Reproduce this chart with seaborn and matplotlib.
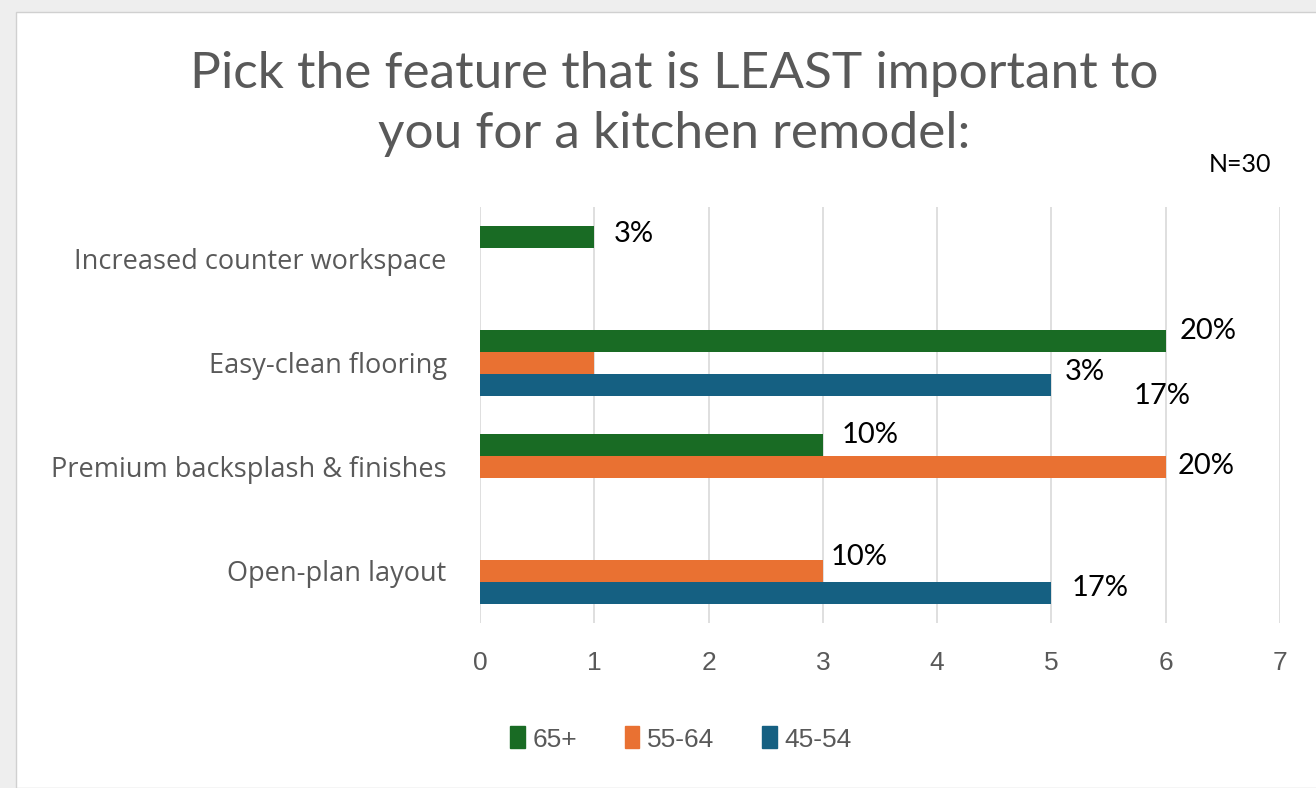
import pandas as pd
import seaborn as sns
import matplotlib.pyplot as plt
from matplotlib.patches import Rectangle

features = ["Increased counter workspace", "Easy-clean flooring",
            "Premium backsplash & finishes", "Open-plan layout"]
age_groups = ["65+", "55-64", "45-54"]
counts_65 = [1, 6, 3, 0]
counts_55 = [0, 1, 6, 3]
counts_45 = [0, 5, 0, 5]
n_total = 30

# data label placement (as in the original, some labels sit off their bars)
label_text = ["3%", "20%", "3%", "17%", "10%", "20%", "10%", "17%"]
label_x = [1.17, 6.12, 5.12, 5.72, 3.16, 6.10, 3.07, 5.18]
label_y = [-0.24, 0.69, 1.09, 1.32, 1.69, 1.99, 2.87, 3.16]

colors = ["#196B24", "#E97132", "#156082"]
narrow = ['Liberation Sans Narrow', 'Liberation Sans', 'DejaVu Sans']

rows = []
for grp, vals in zip(age_groups, [counts_65, counts_55, counts_45]):
    for feat, v in zip(features, vals):
        rows.append({"feature": feat, "group": grp, "count": v})
df = pd.DataFrame(rows)

sns.set_style("white")
plt.rcParams['font.family'] = ['Lato', 'DejaVu Sans']

fig = plt.figure(figsize=(13.16, 7.88), dpi=100)
fig.patch.set_facecolor("#eeeeee")
# white chart area like the Excel chart box
fig.patches.append(Rectangle((16 / 1316, 0), 1, 1 - 12 / 788, transform=fig.transFigure,
                             facecolor="white", edgecolor="#d0d0d0", lw=1, zorder=-1))

ax = fig.add_axes([480 / 1316, 1 - 623 / 788, 800 / 1316, 416 / 788])
ax.set_facecolor("none")
sns.barplot(data=df, y="feature", x="count", hue="group", hue_order=age_groups,
            order=features, palette=colors, orient="h", width=0.63, ax=ax,
            legend=False, errorbar=None, saturation=1, linewidth=0)

ax.set_xlim(0, 7)
ax.set_ylim(3.5, -0.5)
ax.set_xticks(range(8))
ax.grid(axis="x", color="#d9d9d9", lw=1.2)
ax.set_axisbelow(True)
sns.despine(ax=ax, left=True, bottom=True)
ax.set_xlabel("")
ax.set_ylabel("")
ax.tick_params(axis="x", labelsize=19, colors="#595959", pad=20, length=0)
ax.tick_params(axis="y", labelsize=19.5, colors="#595959", pad=24, length=0)
for lbl in ax.get_xticklabels():
    lbl.set_family(narrow)
for lbl in ax.get_yticklabels():
    lbl.set_family(['Open Sans', 'DejaVu Sans'])

for t, x, y in zip(label_text, label_x, label_y):
    ax.text(x, y, t, fontsize=21, color="black", va="center", ha="left")

fig.text(0.512, 1 - 104 / 788, "Pick the feature that is LEAST important to\nyou for a kitchen remodel:",
         ha="center", va="center", fontsize=37, color="#595959", linespacing=1.4)
fig.text(1240 / 1316, 1 - 165 / 788, f"N={n_total}", ha="center", va="center", fontsize=18, color="black")

handles = [Rectangle((0, 0), 1, 1, color=c) for c in colors]
fig.legend(handles, age_groups, loc="center", bbox_to_anchor=(681 / 1316, 1 - 739 / 788),
           ncol=3, frameon=False, prop={"family": narrow, "size": 19}, labelcolor="#595959",
           handlelength=0.55, handleheight=0.9, handletextpad=0.3, columnspacing=1.8)

fig.savefig("out.png", dpi=100, facecolor=fig.get_facecolor())
